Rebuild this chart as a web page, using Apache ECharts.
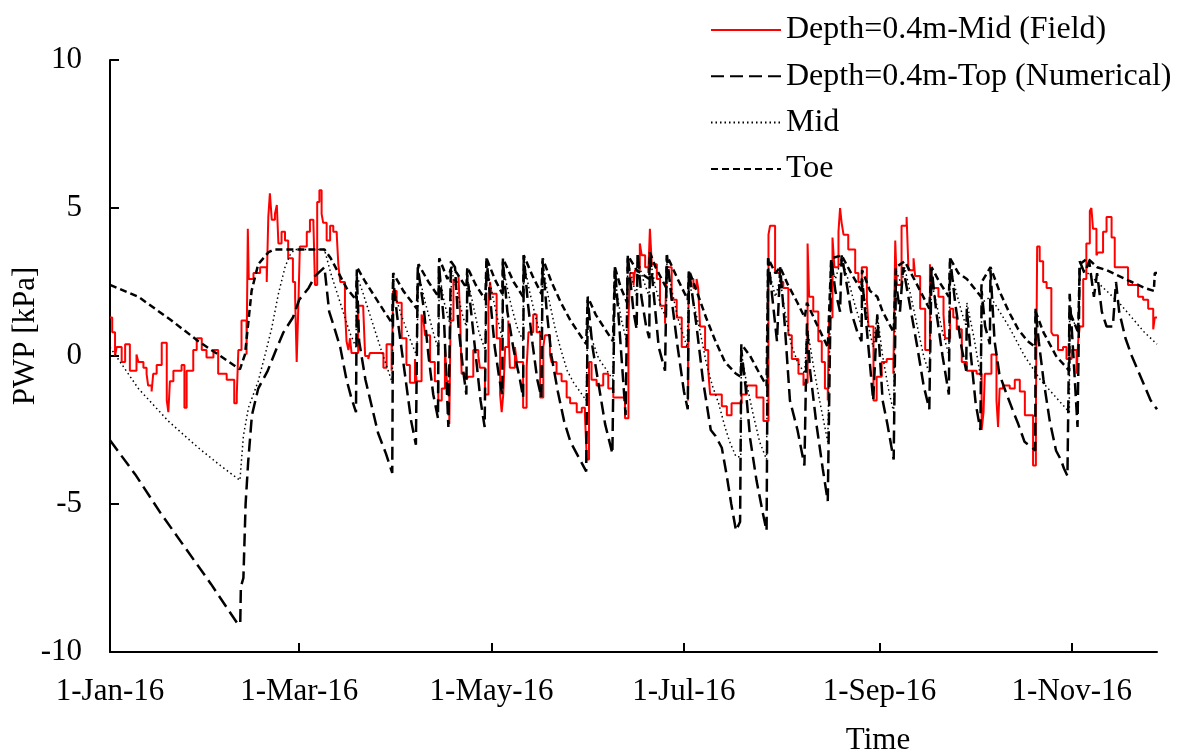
<!DOCTYPE html>
<html><head><meta charset="utf-8">
<script src="https://cdn.jsdelivr.net/npm/echarts@6/dist/echarts.min.js"></script>
<style>html,body{margin:0;padding:0;background:#fff}#c{width:1178px;height:753px}</style>
</head><body><div id="c"></div>
<script>
// x values are days since 1-Jan-2016
const tickDays = [0, 60, 121, 182, 244, 305];
const tickLabels = ['1-Jan-16', '1-Mar-16', '1-May-16', '1-Jul-16', '1-Sep-16', '1-Nov-16'];
const seriesNames = ['Depth=0.4m-Mid (Field)', 'Depth=0.4m-Top (Numerical)', 'Mid', 'Toe'];

const fieldMid = [
[0,1.3],[0.7,0.8],[1.6,0.0],[2.1,0.3],[3.7,-0.2],[4.8,0.4],[6.3,-0.5],[8.4,0.05],[9,-0.2],[10.6,-0.4],[11.6,-0.6],[12.1,-1.0],[13.2,-1.2],[13.7,-0.6],[14.8,-0.3],[16.4,0.45],[18,-1.5],[18.5,-1.9],[19,-0.85],[20.1,-0.5],[22.7,-0.3],[23.6,-1.75],[24.3,-0.5],[26.4,0.2],[27.5,0.6],[29.1,0.2],[30.6,-0.05],[32.8,0.2],[34.3,-0.6],[37,-0.8],[39.4,-1.6],[40.2,-1.3],[40.7,0.2],[41.7,1.2],[43.3,0.05],[43.7,4.3],[44,2.6],[45.5,2.8],[47.6,3.0],[49.7,2.5],[50.2,4.7],[50.7,5.5],[51.3,4.6],[52.3,4.8],[52.9,5.1],[53.4,3.8],[54.4,4.2],[55.5,3.9],[56.5,3.3],[58,2.5],[58.7,2.0],[59.2,-0.2],[59.7,1.6],[60.2,3.7],[62.4,4.2],[63.4,4.6],[64.5,4.5],[65,2.4],[65.7,5.2],[66.4,5.6],[67.1,4.8],[67.6,4.5],[68.7,3.9],[69.8,4.4],[70.8,4.2],[71.9,4.1],[72.4,3.1],[73,2.5],[74.5,1.6],[75,0.5],[75.6,0.2],[76.1,0.6],[76.6,0.1],[78.7,1.7],[80.3,1.6],[80.9,0.0],[81.9,-0.1],[82.4,0.1],[86.7,-0.4],[87.7,0.4],[89.3,-0.5],[89.8,2.2],[90.9,1.8],[92.5,0.6],[94,-0.3],[95.1,-0.9],[96.7,-0.1],[97.2,-0.85],[98.8,1.4],[99.4,1.2],[99.9,0.7],[101.5,-0.2],[103,-0.85],[104.1,-1.5],[105.2,-1.1],[106.2,0.3],[106.8,-0.85],[107.6,-2.3],[108,1.2],[108.9,2.6],[109.4,2.5],[110.5,2.7],[111,1.4],[111.5,-0.6],[113,-0.8],[113.6,-0.7],[115.2,0.2],[116.8,0.0],[117.3,-0.4],[118.9,-1.3],[120,1.7],[120.5,2.5],[121,2.1],[122.6,0.6],[123.7,-1.3],[124.2,-1.9],[124.7,-1.3],[125.3,0.3],[126.3,1.2],[126.8,-0.4],[128.4,0.3],[129,-0.2],[131,-1.75],[132.1,-0.4],[132.7,0.8],[134.2,1.4],[135.3,0.8],[136.4,-1.4],[137.4,0.3],[137.9,0.7],[139.5,0.05],[140,-0.2],[141.6,-0.6],[143.2,-0.85],[144.8,-1.4],[145.9,-1.6],[148,-1.9],[149.6,-1.75],[150.6,-2.0],[151.2,-3.5],[151.9,-0.2],[152.7,-0.8],[154.3,-1.0],[156.4,-0.6],[158,-1.1],[159.6,-1.4],[163.3,-2.1],[164.4,1.2],[164.9,2.8],[166,2.4],[166.5,2.9],[168,3.8],[168.6,3.4],[169.7,3.0],[170.7,2.8],[171.2,4.3],[171.8,3.1],[173.4,2.6],[174.4,1.7],[176,1.1],[176.5,3.0],[178.1,1.9],[179.7,1.3],[181.3,0.3],[183.3,-1.5],[183.5,2.6],[185,2.3],[186,2.6],[186.5,2.3],[187.1,1.0],[188.7,0.2],[189.7,-0.5],[190.3,-1.3],[194,-1.7],[195.6,-2.0],[197.1,-1.6],[200.3,-1.3],[201.9,-1.0],[205,-1.4],[207.2,-2.2],[208.8,4.1],[209.3,4.4],[210.9,2.8],[212.5,2.5],[213.5,2.3],[215.1,0.7],[216.2,-0.1],[218.3,-0.6],[219.9,-1.0],[220.4,-0.9],[221.2,3.8],[221.7,2.0],[223,1.5],[224.6,0.5],[225.7,-0.2],[226.7,-1.1],[227.6,-1.5],[228,1.3],[229.1,4.0],[229.7,3.0],[231,4.2],[231.5,5.0],[232,4.5],[232.6,4.1],[234.1,3.6],[236.3,2.8],[237.3,2.5],[238.4,3.0],[240,1.9],[240.5,1.0],[242.1,-1.5],[243.1,-0.7],[244.7,-0.2],[246.3,-0.1],[248.4,-0.6],[249,3.9],[249.5,2.4],[251,4.4],[252.6,4.7],[253.2,2.9],[254.8,3.3],[255.3,2.7],[256.9,1.6],[258.5,0.2],[260,3.1],[260.6,2.3],[262.7,2.0],[264.3,1.4],[264.8,0.6],[266.4,1.6],[267.4,1.3],[268.5,0.9],[270.1,-0.2],[271.7,-0.5],[274.8,-0.6],[276.4,-2.5],[277,-1.9],[277.4,-0.6],[279.5,0.05],[281.1,-1.5],[281.6,-2.4],[282.1,-1.1],[283.2,-1.0],[285.3,-1.1],[286.9,-0.8],[288.5,-1.2],[290.1,-2.0],[292.7,-3.7],[293.6,-2.0],[294,3.7],[294.8,3.2],[295.9,2.5],[297,2.3],[298.5,0.8],[299.1,0.7],[300.6,0.2],[302.2,0.3],[303.3,-0.1],[304.9,0.2],[306.5,-0.6],[307,0.5],[307.5,1.0],[308.6,2.6],[309.6,3.8],[310.7,4.9],[311.2,5.0],[311.7,4.3],[312.8,3.4],[313.3,3.5],[314.9,4.2],[316,4.7],[317.6,4.0],[318.6,3.0],[322.8,2.4],[326,2.0],[327.6,1.9],[329.2,1.6],[330.8,0.9],[331.3,1.3],[332,1.3]
];

const numTop = [
[0,-2.85],[8,-4.0],[16,-5.3],[24,-6.5],[32,-7.7],[40.5,-9.05],[41.3,-9.05],[41.5,-7.8],[42.3,-7.5],[43,-5.0],[43.8,-3.6],[45,-2.0],[47,-1.1],[50,-0.5],[53,0.3],[55,0.8],[58,1.3],[60,1.9],[63,2.3],[65,2.7],[68,3.0],[69.5,1.5],[71,1.0],[73,0.3],[75,-0.8],[76.5,-1.4],[78,-1.9],[78.3,2.7],[79,0.5],[81,-0.8],[83,-1.7],[85,-2.6],[87.5,-3.3],[89.5,-3.95],[89.8,2.6],[91,1.4],[92.5,0.2],[94,-1.0],[95.5,-2.2],[97,-3.0],[97.6,3.0],[99.5,1.6],[101,0.0],[102.5,-1.3],[104,-2.1],[104.3,3.1],[106,1.0],[107.3,-2.4],[108.1,3.2],[109.4,3.0],[110.5,1.0],[112,-0.5],[113,-1.3],[113.3,2.75],[114.5,1.5],[116,0.0],[117.5,-1.5],[118.8,-2.4],[119.4,3.3],[120.5,2.0],[122,0.3],[123.5,-0.8],[124.4,-1.3],[124.6,3.2],[126,1.5],[128,0.2],[130,-0.8],[131,-1.4],[131.2,3.4],[132.5,1.8],[134,0.4],[135.5,-0.8],[136.8,-1.4],[137.2,3.2],[138.5,1.5],[140,0.0],[142,-1.2],[144,-2.2],[146,-2.9],[148.5,-3.4],[151,-3.9],[151.5,1.9],[153,0.3],[155,-1.0],[157,-2.3],[159.3,-3.3],[160.1,3.0],[161.5,1.0],[163.5,-2.0],[164.2,3.4],[166,1.5],[167,0.9],[167.3,3.5],[168.5,2.0],[170,1.0],[171,0.6],[171.2,3.5],[172.5,2.0],[174,0.3],[176,-0.5],[176.6,3.4],[178,2.0],[180,0.3],[182,-1.2],[183.2,-1.8],[183.6,2.9],[186,1.0],[188,-0.8],[190.5,-2.5],[192,-2.7],[194,-3.1],[195.5,-4.0],[197,-5.0],[198.5,-5.9],[199.8,-5.6],[200.2,0.2],[201.5,-1.0],[203,-2.8],[205,-4.2],[207,-5.3],[208.2,-5.9],[208.7,3.3],[210,2.0],[211.5,0.5],[212.5,3.0],[214,1.0],[215.6,-1.5],[218,-2.5],[220.2,-3.7],[221,1.1],[222,-0.5],[224,-2.3],[226,-3.8],[227.6,-4.9],[228.7,3.3],[230,2.2],[231.5,1.5],[232,3.4],[233.5,2.5],[235,1.5],[237,0.8],[238.3,0.5],[238.5,2.6],[240.5,0.3],[242,-1.5],[243.3,1.4],[245,-1.5],[246.5,-2.3],[248.5,-3.5],[249.2,2.5],[250.5,1.5],[251.5,3.0],[254,1.5],[256,0.3],[258,-1.0],[259.8,-1.8],[260.5,3.0],[262,1.5],[264,0.0],[266,-1.3],[266.4,3.3],[268,1.8],[270,0.3],[271.5,-0.5],[271.7,1.6],[273,0.0],[274.5,-1.6],[276,-2.5],[276.4,2.2],[277.5,1.0],[279,0.4],[279.2,2.9],[280.5,0.5],[282,-0.6],[284,-1.2],[286.5,-1.9],[288,-2.3],[290,-2.9],[292.5,-3.1],[293.4,-3.2],[293.5,1.6],[294.5,0.5],[296,-0.8],[298,-2.2],[300,-3.2],[301.5,-3.5],[302.5,-3.8],[303.6,-4.05],[304.3,2.1],[305.5,0.0],[306.8,-2.4],[307.5,3.2],[309,2.8],[310.5,3.2],[312,2.0],[313,2.8],[314.5,1.5],[316,1.0],[318,1.0],[319,2.5],[320,1.5],[322,0.6],[324,0.0],[326,-0.5],[328,-1.0],[330,-1.5],[332,-1.8]
];

const numMid = [
[0,0.3],[9,-1.1],[18.5,-2.2],[28,-3.1],[35,-3.7],[41.2,-4.2],[42.3,-2.7],[43.9,-1.75],[47,-0.85],[49.2,0.05],[51.3,0.95],[53.4,2.1],[55.5,3.0],[57,3.4],[58.5,3.6],[68,3.6],[70,2.8],[73,1.8],[76,0.8],[78,0.3],[78.3,2.7],[80,2.2],[83,1.2],[86,0.2],[89.5,-0.9],[89.8,2.3],[92,1.5],[95,0.6],[97.3,0.0],[97.8,2.8],[100,1.8],[103,0.6],[104.2,0.2],[104.4,2.8],[106,1.8],[108,1.0],[108.3,2.9],[110,2.2],[112,1.3],[113,1.0],[113.3,2.6],[115,1.8],[117,0.8],[119,0.2],[119.4,3.1],[121,2.2],[123,1.2],[124.4,0.6],[124.6,3.0],[127,1.8],[129,1.0],[131,0.5],[131.2,3.2],[133,2.2],[135,1.3],[136.8,0.6],[137.2,3.0],[139,2.0],[141,1.0],[143,0.2],[145,-0.5],[147,-0.9],[149,-1.2],[151,-1.5],[151.5,1.2],[153,0.5],[155,-0.1],[157,-0.4],[159.5,-0.8],[160.1,2.6],[162,1.3],[163.8,0.5],[164.2,3.2],[166,2.4],[167,2.0],[167.3,3.3],[169,2.6],[171,2.0],[171.2,3.3],[173,2.3],[175,1.6],[176.4,1.3],[176.6,3.2],[178,2.3],[180,1.3],[183,0.3],[183.6,2.6],[185,1.8],[187,0.9],[189,-0.2],[191,-1.0],[193,-1.6],[195,-2.4],[196.5,-2.9],[198.5,-3.4],[200,-3.4],[200.2,0.1],[202,-1.0],[204,-2.0],[206,-2.9],[208.2,-3.5],[208.7,3.0],[211,2.0],[212.5,2.6],[214,1.5],[216,0.4],[218,-0.2],[220.3,-0.6],[221,1.0],[223,-0.3],[225,-1.5],[227.6,-2.9],[228.7,3.0],[230,2.6],[232,3.3],[234,2.6],[236,1.8],[238.3,1.0],[238.5,2.5],[240.5,1.0],[242,0.3],[243.3,1.4],[245,0.0],[247,-1.2],[248.5,-1.9],[249.2,2.9],[251,2.4],[252,3.0],[254,2.0],[256,1.0],[258,0.0],[259.8,-0.6],[260.5,2.5],[262,1.8],[264,0.8],[266,0.05],[266.4,3.0],[268,2.3],[270,1.5],[271.5,1.0],[271.7,1.8],[274,0.6],[276.2,-0.8],[276.4,1.8],[279.2,2.0],[285,1.0],[290,0.0],[295,-0.8],[300,-1.4],[304.2,-1.9],[304.3,1.5],[307,0.8],[307.5,3.0],[310,2.8],[313,2.5],[316,2.2],[320,1.8],[324,1.3],[328,0.8],[332,0.4]
];

const numToe = [
[0,2.4],[9,2.0],[19.5,1.2],[28,0.5],[34.3,0.05],[41.2,-0.45],[42.8,0.05],[44.9,2.2],[47,3.1],[50.2,3.5],[52,3.6],[68,3.6],[70,3.3],[72,2.9],[75,2.3],[78,1.9],[78.3,3.0],[81,2.5],[84,2.0],[87,1.5],[89.5,1.1],[89.8,2.8],[93,2.2],[97.3,1.6],[97.8,3.1],[101,2.5],[104.2,2.0],[104.4,3.3],[107,2.6],[108.3,3.0],[110,2.8],[113,2.3],[113.3,3.0],[116,2.4],[119,1.9],[119.4,3.3],[122,2.6],[124.4,2.1],[124.6,3.3],[128,2.5],[131,2.0],[131.2,3.4],[134,2.7],[136.8,2.1],[137.2,3.3],[140,2.5],[143,1.8],[146,1.2],[148.5,0.8],[151,0.4],[151.5,2.0],[154,1.4],[157,0.9],[159.5,0.5],[160.1,3.0],[162,2.3],[164,1.8],[164.2,3.4],[167,2.9],[171,2.6],[171.2,3.5],[173,3.0],[176.4,2.3],[176.6,3.4],[180,2.6],[183.2,1.9],[183.6,2.9],[186,2.2],[189,1.3],[192,0.5],[195,-0.2],[198.5,-0.6],[200,-0.7],[200.2,0.4],[203,0.0],[206,-0.6],[208.2,-1.0],[208.7,3.3],[211,2.8],[212.5,3.0],[215,2.4],[218,1.8],[220.3,1.3],[221,1.8],[224,1.1],[227.6,0.3],[228.7,3.3],[232,3.4],[235,2.8],[238.3,2.2],[238.5,2.9],[241,2.2],[243.3,2.0],[245,1.5],[248.5,0.8],[249.2,3.0],[252,3.2],[255,2.6],[259.8,1.6],[260.5,3.0],[263,2.5],[266,2.0],[266.4,3.3],[269,2.8],[271.7,2.6],[274,2.3],[276.2,2.0],[276.4,2.5],[279.2,3.0],[282,2.2],[285,1.5],[288,0.9],[291,0.5],[293.4,0.3],[293.5,1.5],[296,0.8],[300,0.0],[304.2,-0.5],[304.3,1.5],[307,0.8],[307.5,3.1],[310,3.3],[313,3.0],[316,2.9],[320,2.7],[324,2.5],[328,2.3],[331,2.2],[331.3,2.8],[332,2.8]
];

const FONT = '"Liberation Serif", "Times New Roman", serif';
const chart = echarts.init(document.getElementById('c'), null, {renderer: 'canvas'});
const option = {
  animation: false,
  backgroundColor: '#fff',
  grid: {left: 110, top: 60, right: 21, bottom: 101, containLabel: false},
  legend: {
    orient: 'vertical', left: 710, top: 14, padding: 0,
    itemWidth: 70, itemHeight: 14, itemGap: 14.3,
    data: seriesNames,
    itemStyle: {opacity: 0},
    textStyle: {fontFamily: FONT, fontSize: 32, color: '#000', lineHeight: 32}
  },
  xAxis: {
    type: 'value', min: 0, max: 332,
    axisLine: {show: true, onZero: false, lineStyle: {color: '#000', width: 2}},
    axisTick: {show: true, inside: true, length: 9, customValues: tickDays, lineStyle: {color: '#000', width: 2}},
    axisLabel: {
      customValues: tickDays, margin: 24, color: '#000', fontFamily: FONT, fontSize: 31,
      formatter: function (v) { const i = tickDays.indexOf(Math.round(v)); return i >= 0 ? tickLabels[i] : ''; }
    },
    splitLine: {show: false}
  },
  yAxis: {
    type: 'value', min: -10, max: 10, interval: 5,
    axisLine: {show: true, onZero: false, lineStyle: {color: '#000', width: 2}},
    axisTick: {show: true, inside: true, length: 9, lineStyle: {color: '#000', width: 2}},
    axisLabel: {margin: 28, color: '#000', fontFamily: FONT, fontSize: 31},
    splitLine: {show: false}
  },
  graphic: [
    {type: 'text', x: 26, y: 336, rotation: Math.PI / 2,
     style: {text: 'PWP [kPa]', font: '31px "Liberation Serif"', fill: '#000', textAlign: 'center', textVerticalAlign: 'middle'}},
    {type: 'text', x: 878, y: 741,
     style: {text: 'Time', font: '31px "Liberation Serif"', fill: '#000', textAlign: 'center', textVerticalAlign: 'middle'}}
  ],
  series: [
    {name: seriesNames[0], type: 'line', data: fieldMid, step: 'end', symbol: 'none', showSymbol: false,
     lineStyle: {color: '#ff0000', width: 2}, itemStyle: {color: '#ff0000'}},
    {name: seriesNames[1], type: 'line', data: numTop, symbol: 'none', showSymbol: false,
     lineStyle: {color: '#000', width: 2.5, type: [13, 6]}, itemStyle: {color: '#000'}},
    {name: seriesNames[2], type: 'line', data: numMid, symbol: 'none', showSymbol: false,
     lineStyle: {color: '#000', width: 1.5, type: [1.5, 3]}, itemStyle: {color: '#000'}},
    {name: seriesNames[3], type: 'line', data: numToe, symbol: 'none', showSymbol: false,
     lineStyle: {color: '#000', width: 2.5, type: [7, 4]}, itemStyle: {color: '#000'}}
  ]
};
chart.setOption(option);
</script></body></html>
